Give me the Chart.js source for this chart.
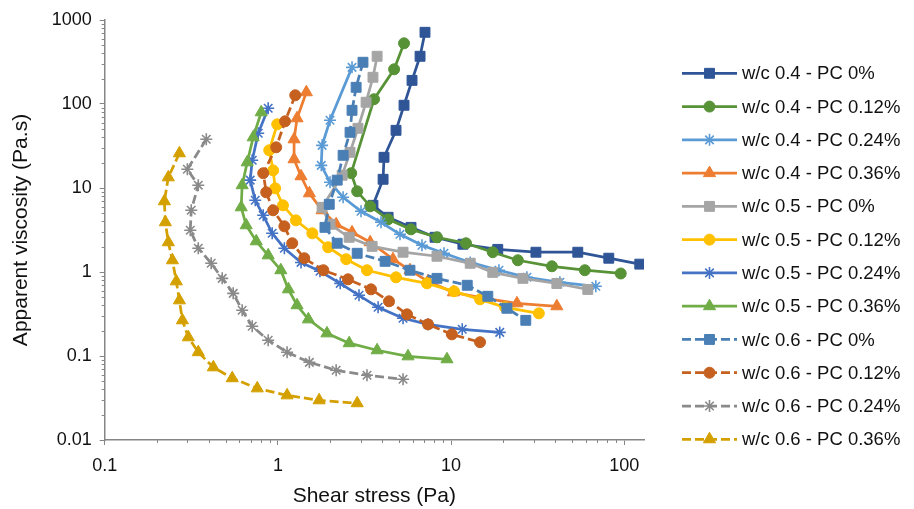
<!DOCTYPE html>
<html>
<head>
<meta charset="utf-8">
<script src="https://cdn.jsdelivr.net/npm/chart.js@4.4.0/dist/chart.umd.min.js"></script>
<style>
  body { margin: 0; background: #fff; }
  #wrap { width: 914px; height: 509px; }
</style>
</head>
<body>
<div id="wrap"><canvas id="flowChart" width="914" height="509"></canvas></div>
<script>
// series names, in legend order
const seriesNames = [
  'w/c 0.4 - PC 0%', 'w/c 0.4 - PC 0.12%', 'w/c 0.4 - PC 0.24%', 'w/c 0.4 - PC 0.36%',
  'w/c 0.5 - PC 0%', 'w/c 0.5 - PC 0.12%', 'w/c 0.5 - PC 0.24%', 'w/c 0.5 - PC 0.36%',
  'w/c 0.6 - PC 0%', 'w/c 0.6 - PC 0.12%', 'w/c 0.6 - PC 0.24%', 'w/c 0.6 - PC 0.36%'
];

// shear stress (Pa) / apparent viscosity (Pa.s)
const stressWc04Pc0   = [7.07, 6.62, 5.95, 5.35, 4.81, 4.10, 4.05, 3.54, 4.33, 5.87, 8.08, 11.7, 18.6, 30.9, 53.9, 81.4, 122.9];
const viscWc04Pc0     = [714, 370, 191, 96.6, 48.6, 23.2, 12.7, 6.22, 4.48, 3.40, 2.59, 2.14, 1.86, 1.72, 1.72, 1.46, 1.24];
const stressWc04Pc012 = [5.35, 4.69, 3.59, 2.65, 2.87, 3.41, 4.33, 5.87, 8.29, 12.2, 17.4, 24.3, 38.2, 59.2, 95.4];
const viscWc04Pc012   = [528, 259, 114, 15.0, 9.14, 6.05, 4.24, 3.22, 2.59, 2.20, 1.72, 1.38, 1.17, 1.05, 0.96];
const stressWc04Pc024 = [2.68, 2.00, 1.80, 1.78, 2.00, 2.38, 3.02, 3.94, 5.07, 6.79, 9.10, 12.9, 18.9, 27.4, 42.5, 68.5];
const viscWc04Pc024   = [273, 64.0, 32.2, 18.6, 11.7, 7.75, 5.28, 3.91, 2.81, 2.08, 1.67, 1.30, 1.05, 0.865, 0.754, 0.676];
const stressWc04Pc036 = [1.46, 1.29, 1.24, 1.24, 1.36, 1.52, 1.80, 2.17, 2.68, 3.41, 4.62, 5.79, 7.36, 10.3, 15.7, 24.0, 40.8];
const viscWc04Pc036   = [138, 67.6, 38.0, 22.0, 13.8, 8.65, 5.43, 3.70, 2.97, 2.26, 1.42, 1.05, 0.774, 0.573, 0.486, 0.424, 0.391];
const stressWc05Pc0   = [3.74, 3.54, 3.23, 2.90, 2.61, 2.35, 1.80, 2.00, 2.58, 3.50, 5.28, 8.29, 12.9, 17.4, 26.0, 40.8, 61.6];
const viscWc05Pc0     = [370, 208, 105, 51.4, 26.6, 14.2, 5.89, 3.70, 2.59, 2.02, 1.72, 1.54, 1.27, 0.99, 0.84, 0.73, 0.62];
const stressWc05Pc012 = [0.991, 0.891, 0.939, 0.965, 1.07, 1.27, 1.58, 1.95, 2.48, 3.27, 4.81, 7.26, 10.4, 14.7, 20.5, 32.1];
const viscWc05Pc012   = [57.3, 28.1, 16.2, 9.91, 6.22, 4.12, 2.89, 1.97, 1.42, 1.05, 0.865, 0.733, 0.589, 0.473, 0.380, 0.322];
const stressWc05Pc024 = [0.879, 0.770, 0.711, 0.692, 0.740, 0.823, 0.927, 1.09, 1.36, 1.75, 2.29, 2.94, 3.79, 5.28, 7.36, 11.6, 19.1];
const viscWc05Pc024   = [88.9, 44.8, 21.4, 12.4, 7.14, 4.73, 2.89, 1.92, 1.30, 1.02, 0.733, 0.528, 0.380, 0.281, 0.238, 0.208, 0.191];
const stressWc05Pc036 = [0.801, 0.720, 0.665, 0.622, 0.614, 0.656, 0.750, 0.879, 1.04, 1.15, 1.29, 1.50, 1.92, 2.58, 3.74, 5.64, 9.47];
const viscWc05Pc036   = [79.7, 40.1, 20.2, 10.8, 5.89, 3.60, 2.32, 1.58, 1.05, 0.622, 0.402, 0.273, 0.186, 0.142, 0.117, 0.0991, 0.0914];
const stressWc06Pc0   = [3.10, 2.83, 2.68, 2.61, 2.38, 2.20, 1.98, 1.87, 2.20, 2.87, 4.16, 5.79, 8.29, 12.4, 16.3, 21.0, 27.0];
const viscWc06Pc0     = [314, 158, 84.1, 46.0, 24.5, 12.4, 6.40, 3.40, 2.20, 1.67, 1.34, 1.05, 0.84, 0.695, 0.514, 0.370, 0.266];
const stressWc06Pc012 = [1.26, 1.10, 0.978, 0.823, 0.856, 0.939, 1.09, 1.21, 1.42, 1.83, 2.54, 3.45, 4.38, 5.57, 7.36, 10.1, 14.7];
const viscWc06Pc012   = [127, 62.2, 30.5, 15.0, 8.89, 5.43, 3.50, 2.20, 1.46, 1.05, 0.819, 0.622, 0.448, 0.313, 0.238, 0.181, 0.146];
const stressWc06Pc024 = [0.386, 0.300, 0.347, 0.316, 0.312, 0.347, 0.412, 0.477, 0.552, 0.622, 0.711, 0.879, 1.13, 1.52, 2.17, 3.27, 5.28];
const viscWc06Pc024   = [38.0, 16.7, 10.8, 5.43, 3.14, 1.92, 1.27, 0.84, 0.557, 0.350, 0.226, 0.154, 0.111, 0.0841, 0.0676, 0.0590, 0.0529];
const stressWc06Pc036 = [0.270, 0.233, 0.221, 0.224, 0.233, 0.246, 0.259, 0.270, 0.281, 0.304, 0.347, 0.424, 0.545, 0.760, 1.13, 1.73, 2.87];
const viscWc06Pc036   = [25.9, 13.4, 6.95, 3.91, 2.26, 1.38, 0.774, 0.460, 0.266, 0.167, 0.111, 0.0733, 0.0544, 0.0412, 0.0340, 0.0297, 0.0274];

// axis decades + labels
const xDecades = [0.1, 1, 10, 100];
const xTickLabels = ['0.1', '1', '10', '100'];
const yDecades = [0.01, 0.1, 1, 10, 100, 1000];
const yTickLabels = ['0.01', '0.1', '1', '10', '100', '1000'];

const stressSeries = [stressWc04Pc0, stressWc04Pc012, stressWc04Pc024, stressWc04Pc036,
  stressWc05Pc0, stressWc05Pc012, stressWc05Pc024, stressWc05Pc036,
  stressWc06Pc0, stressWc06Pc012, stressWc06Pc024, stressWc06Pc036];
const viscSeries = [viscWc04Pc0, viscWc04Pc012, viscWc04Pc024, viscWc04Pc036,
  viscWc05Pc0, viscWc05Pc012, viscWc05Pc024, viscWc05Pc036,
  viscWc06Pc0, viscWc06Pc012, viscWc06Pc024, viscWc06Pc036];

// styling
const colors = ['#2F5597', '#589237', '#5B9BD5', '#ED7D31', '#A5A5A5', '#FFC000',
  '#4472C4', '#70AD47', '#4A7FB5', '#C5601F', '#8A8A8A', '#D4A000'];
const markers = ['rect', 'circle', 'star', 'triangle', 'rect', 'circle',
  'star', 'triangle', 'rect', 'circle', 'star', 'triangle'];
const markerRadius = { rect: 7, circle: 5.5, star: 6, triangle: 7 };
const dashed = i => i >= 8;
const FONT = "'Liberation Sans', Arial, sans-serif";
const AXIS_COLOR = '#868686';
const TEXT_COLOR = '#111';

const isDecade = v => Math.abs(Math.log10(v) - Math.round(Math.log10(v))) < 1e-6;

function logTicks(decades, max) {
  const out = [];
  decades.forEach(d => {
    for (let k = 1; k <= 9; k++) {
      const v = d * k;
      if (v <= max * 1.0001) out.push({ value: v });
    }
  });
  return out;
}

const datasets = seriesNames.map((name, i) => ({
  label: name,
  data: stressSeries[i].map((x, j) => ({ x: x, y: viscSeries[i][j] })),
  showLine: true,
  borderColor: colors[i],
  backgroundColor: colors[i],
  borderWidth: 2.75,
  borderDash: dashed(i) ? [9, 4] : [],
  pointStyle: markers[i],
  pointRadius: markerRadius[markers[i]],
  pointHoverRadius: markerRadius[markers[i]],
  pointBorderWidth: markers[i] === 'star' ? 1.6 : 1,
  pointBackgroundColor: colors[i],
  pointBorderColor: colors[i],
  tension: 0,
  order: seriesNames.length - i   // later series on top, like the original
}));

// short minor tick marks outside the axes
const minorTicks = {
  id: 'minorTicks',
  afterDraw(chart) {
    const { ctx, scales: { x, y } } = chart;
    ctx.save();
    ctx.strokeStyle = AXIS_COLOR;
    ctx.lineWidth = 1;
    x.ticks.forEach(t => {
      if (isDecade(t.value)) return;
      const px = Math.round(x.getPixelForValue(t.value)) + 0.5;
      ctx.beginPath(); ctx.moveTo(px, x.top); ctx.lineTo(px, x.top + 3); ctx.stroke();
    });
    y.ticks.forEach(t => {
      if (isDecade(t.value)) return;
      const py = Math.round(y.getPixelForValue(t.value)) + 0.5;
      ctx.beginPath(); ctx.moveTo(y.right, py); ctx.lineTo(y.right - 3, py); ctx.stroke();
    });
    ctx.restore();
  }
};

// legend with line + marker, like Excel
const lineLegend = {
  id: 'lineLegend',
  afterDraw(chart) {
    const ctx = chart.ctx;
    ctx.save();
    ctx.font = '18.5px ' + FONT;
    ctx.textBaseline = 'middle';
    ctx.textAlign = 'left';
    chart.data.datasets.forEach((ds, i) => {
      const yy = 73.3 + i * 33.27;
      ctx.strokeStyle = ds.borderColor;
      ctx.lineWidth = ds.borderWidth;
      ctx.setLineDash(ds.borderDash);
      ctx.beginPath(); ctx.moveTo(682, yy); ctx.lineTo(737, yy); ctx.stroke();
      ctx.setLineDash([]);
      ctx.fillStyle = ds.pointBackgroundColor;
      ctx.strokeStyle = ds.pointBorderColor;
      ctx.lineWidth = ds.pointBorderWidth;
      Chart.helpers.drawPoint(ctx, {
        pointStyle: ds.pointStyle, rotation: 0,
        radius: ds.pointRadius, borderWidth: ds.pointBorderWidth
      }, 709.5, yy);
      ctx.fillStyle = TEXT_COLOR;
      ctx.fillText(ds.label, 742, yy + 1);
    });
    ctx.restore();
  }
};

new Chart(document.getElementById('flowChart'), {
  type: 'scatter',
  data: { datasets },
  options: {
    responsive: false,
    animation: false,
    layout: { padding: { left: 0, top: 20, right: 270, bottom: 0 } },
    plugins: { legend: { display: false }, tooltip: { enabled: false } },
    scales: {
      x: {
        type: 'logarithmic',
        min: 0.1,
        max: 130,
        afterBuildTicks: s => { s.ticks = logTicks(xDecades, 130); },
        afterFit: s => { s.height = 69; },
        border: { color: AXIS_COLOR, width: 1.5 },
        grid: {
          drawOnChartArea: false, drawTicks: true, tickLength: 5,
          tickColor: c => (c.tick && isDecade(c.tick.value)) ? AXIS_COLOR : 'rgba(0,0,0,0)'
        },
        ticks: {
          autoSkip: false, maxRotation: 0, padding: 10,
          color: TEXT_COLOR, font: { family: FONT, size: 18 },
          callback: v => { const k = xDecades.findIndex(d => Math.abs(d - v) < d * 1e-6); return k >= 0 ? xTickLabels[k] : ''; }
        },
        title: {
          display: true, text: 'Shear stress (Pa)', color: TEXT_COLOR,
          font: { family: FONT, size: 21 }, padding: { top: 1, bottom: 0 }
        }
      },
      y: {
        type: 'logarithmic',
        min: 0.01,
        max: 1000,
        afterBuildTicks: s => { s.ticks = logTicks(yDecades, 1000); },
        afterFit: s => { s.width = 104.7; },
        border: { color: AXIS_COLOR, width: 1.5 },
        grid: {
          drawOnChartArea: false, drawTicks: true, tickLength: 5,
          tickColor: c => (c.tick && isDecade(c.tick.value)) ? AXIS_COLOR : 'rgba(0,0,0,0)'
        },
        ticks: {
          autoSkip: false, padding: 8,
          color: TEXT_COLOR, font: { family: FONT, size: 18 },
          callback: v => { const k = yDecades.findIndex(d => Math.abs(d - v) < d * 1e-6); return k >= 0 ? yTickLabels[k] : ''; }
        },
        title: {
          display: true, text: 'Apparent viscosity (Pa.s)', color: TEXT_COLOR,
          font: { family: FONT, size: 21 }, padding: { top: 9, bottom: 0 }
        }
      }
    }
  },
  plugins: [minorTicks, lineLegend]
});
</script>
</body>
</html>
